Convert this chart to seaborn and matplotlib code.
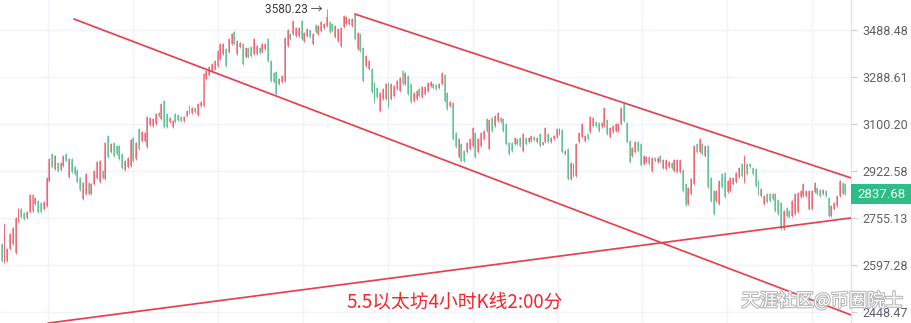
import numpy as np
import matplotlib
matplotlib.use("Agg")
import matplotlib.pyplot as plt
import seaborn as sns
from matplotlib.patches import Rectangle
from matplotlib.ticker import FixedLocator, NullLocator, NullFormatter, FuncFormatter
import matplotlib.patheffects as pe

# ---------------- data (ETH 4h candles) ----------------
opens = [
    2667, 2606, 2610, 2649, 2666, 2636, 2744, 2787, 2773, 2754,
    2775, 2779, 2803, 2815, 2808, 2786, 2796, 2886, 2986, 2930,
    2952, 2926, 2941, 2986, 2900, 2967, 2937, 2926, 2897, 2822,
    2839, 2879, 2839, 2875, 2897, 2882, 2922, 2893, 3054, 2993,
    3027, 3016, 3016, 2986, 2926, 2937, 2941, 3046, 2967, 3081,
    3035, 3035, 3012, 3096, 3092, 3100, 3143, 3120, 3191, 3139,
    3108, 3088, 3139, 3135, 3127, 3112, 3131, 3171, 3143, 3163,
    3135, 3171, 3171, 3280, 3297, 3314, 3322, 3335, 3364, 3385,
    3406, 3394, 3428, 3480, 3385, 3415, 3428, 3372, 3411, 3415,
    3385, 3385, 3411, 3394, 3406, 3449, 3355, 3305, 3309, 3260,
    3268, 3272, 3419, 3471, 3471, 3462, 3462, 3528, 3441, 3462,
    3488, 3428, 3511, 3471, 3484, 3497, 3506, 3524, 3515, 3458,
    3441, 3419, 3502, 3515, 3515, 3506, 3555, 3406, 3471, 3411,
    3335, 3322, 3322, 3264, 3243, 3151, 3199, 3199, 3264, 3199,
    3211, 3239, 3231, 3314, 3260, 3293, 3260, 3191, 3199, 3239,
    3207, 3219, 3231, 3252, 3260, 3256, 3243, 3260, 3297, 3223,
    3171, 3183, 3065, 2974, 3023, 2997, 2993, 3004, 3016, 3065,
    2993, 3016, 3042, 3120, 3004, 3123, 3092, 3112, 3123, 3120,
    3100, 3027, 3027, 3023, 3042, 3046, 2997, 3046, 3031, 3035,
    3050, 3031, 3062, 3019, 3031, 3062, 3031, 3042, 3050, 3062,
    3077, 2986, 3004, 2893, 2904, 2904, 3031, 3050, 3035, 3062,
    3069, 3092, 3108, 3104, 3088, 3092, 3116, 3050, 3069, 3073,
    3073, 3100, 3179, 3104, 3035, 2978, 2993, 3031, 3023, 2948,
    2956, 2974, 2922, 2971, 2956, 2978, 2934, 2930, 2937, 2952,
    2922, 2919, 2919, 2926, 2875, 2804, 2839, 2875, 3023, 2993,
    3023, 2978, 3016, 2897, 2850, 2814, 2804, 2911, 2915, 2846,
    2850, 2875, 2882, 2900, 2948, 2882, 2948, 2948, 2934, 2930,
    2886, 2832, 2804, 2839, 2839, 2822, 2839, 2818, 2807, 2717,
    2790, 2779, 2762, 2769, 2776, 2829, 2832, 2832, 2786, 2786,
    2846, 2861, 2854, 2839, 2850, 2825, 2762, 2786, 2797, 2832,
    2879, 2875,
]
highs = [
    2670, 2738, 2653, 2704, 2724, 2758, 2790, 2790, 2776, 2779,
    2839, 2839, 2829, 2818, 2811, 2814, 2900, 2971, 2989, 2982,
    2956, 2956, 2982, 2989, 2971, 2971, 2941, 2930, 2900, 2882,
    2915, 2882, 2879, 2926, 2959, 2963, 2926, 3031, 3058, 3027,
    3031, 3019, 3019, 2989, 2963, 2974, 3042, 3050, 3031, 3085,
    3073, 3069, 3131, 3127, 3123, 3143, 3147, 3183, 3195, 3143,
    3127, 3116, 3143, 3139, 3131, 3131, 3155, 3175, 3167, 3167,
    3183, 3191, 3305, 3318, 3335, 3347, 3360, 3402, 3432, 3432,
    3411, 3454, 3475, 3484, 3445, 3436, 3432, 3415, 3415, 3419,
    3454, 3424, 3415, 3432, 3432, 3454, 3360, 3309, 3314, 3284,
    3297, 3458, 3493, 3475, 3533, 3502, 3502, 3533, 3480, 3497,
    3493, 3475, 3515, 3511, 3528, 3519, 3580.23, 3528, 3519, 3511,
    3497, 3502, 3555, 3550, 3542, 3542, 3559, 3480, 3475, 3415,
    3381, 3360, 3326, 3268, 3248, 3227, 3243, 3264, 3268, 3264,
    3256, 3276, 3289, 3318, 3309, 3297, 3264, 3227, 3235, 3243,
    3252, 3252, 3268, 3272, 3264, 3260, 3264, 3309, 3301, 3227,
    3191, 3187, 3069, 3046, 3027, 3000, 3031, 3046, 3088, 3069,
    3046, 3069, 3077, 3123, 3120, 3127, 3135, 3147, 3127, 3123,
    3104, 3031, 3031, 3050, 3046, 3050, 3065, 3050, 3050, 3058,
    3054, 3050, 3065, 3031, 3088, 3065, 3050, 3058, 3085, 3085,
    3081, 3000, 3008, 2956, 2952, 3027, 3069, 3104, 3058, 3065,
    3131, 3127, 3112, 3108, 3108, 3167, 3120, 3088, 3096, 3104,
    3104, 3167, 3183, 3108, 3038, 3012, 3035, 3035, 3027, 2982,
    2978, 2978, 2974, 2974, 2974, 2982, 2967, 2967, 2959, 2956,
    2967, 2967, 2967, 2930, 2879, 2864, 2897, 3019, 3027, 3046,
    3027, 3019, 3019, 2900, 2854, 2854, 2890, 2915, 2919, 2890,
    2900, 2900, 2919, 2937, 2952, 2982, 2952, 2952, 2937, 2934,
    2890, 2861, 2836, 2843, 2843, 2843, 2843, 2822, 2811, 2783,
    2793, 2783, 2818, 2843, 2846, 2854, 2879, 2854, 2854, 2854,
    2882, 2864, 2857, 2857, 2854, 2829, 2800, 2811, 2836, 2890,
    2882, 2879,
]
lows = [
    2607, 2603, 2607, 2646, 2663, 2633, 2741, 2755, 2748, 2751,
    2772, 2776, 2800, 2772, 2772, 2783, 2793, 2882, 2934, 2926,
    2919, 2922, 2937, 2956, 2897, 2915, 2908, 2879, 2850, 2818,
    2836, 2836, 2836, 2872, 2893, 2879, 2893, 2890, 2971, 2989,
    2974, 2982, 2963, 2930, 2922, 2934, 2937, 2956, 2963, 3000,
    3031, 3031, 3008, 3092, 3088, 3096, 3127, 3116, 3085, 3085,
    3104, 3085, 3104, 3112, 3108, 3108, 3127, 3139, 3139, 3143,
    3131, 3167, 3167, 3276, 3293, 3309, 3318, 3330, 3360, 3381,
    3330, 3389, 3424, 3424, 3381, 3411, 3339, 3368, 3368, 3372,
    3381, 3381, 3385, 3389, 3402, 3351, 3268, 3264, 3215, 3256,
    3264, 3268, 3415, 3445, 3467, 3458, 3458, 3445, 3436, 3458,
    3454, 3424, 3475, 3467, 3480, 3493, 3502, 3475, 3480, 3454,
    3436, 3415, 3497, 3511, 3511, 3502, 3445, 3402, 3394, 3268,
    3330, 3318, 3223, 3183, 3203, 3147, 3195, 3195, 3163, 3195,
    3207, 3235, 3227, 3256, 3256, 3215, 3183, 3187, 3195, 3207,
    3203, 3215, 3227, 3248, 3239, 3235, 3239, 3256, 3187, 3155,
    3167, 3038, 3008, 2971, 2956, 2956, 2989, 3000, 3012, 2971,
    2989, 3012, 3038, 3069, 3000, 3069, 3088, 3108, 3104, 3069,
    3019, 2982, 2993, 3019, 3019, 3012, 2993, 3019, 3027, 3031,
    3035, 3027, 3012, 3019, 3027, 3027, 3027, 3038, 3046, 3058,
    2989, 2982, 2890, 2890, 2900, 2900, 3027, 3046, 3031, 3038,
    3065, 3088, 3088, 3069, 3085, 3088, 3058, 3046, 3065, 3069,
    3069, 3096, 3108, 3027, 2952, 2974, 2989, 2993, 2941, 2945,
    2952, 2945, 2919, 2956, 2952, 2952, 2930, 2926, 2934, 2930,
    2919, 2915, 2915, 2846, 2797, 2800, 2836, 2872, 2989, 2989,
    2982, 2974, 2861, 2811, 2765, 2811, 2800, 2861, 2825, 2843,
    2846, 2872, 2879, 2897, 2900, 2879, 2908, 2934, 2908, 2864,
    2836, 2829, 2800, 2807, 2811, 2818, 2776, 2765, 2714, 2714,
    2758, 2755, 2758, 2765, 2772, 2825, 2829, 2829, 2783, 2783,
    2843, 2836, 2829, 2836, 2829, 2758, 2758, 2783, 2793, 2829,
    2836, 2836,
]
closes = [
    2610, 2735, 2650, 2701, 2721, 2755, 2787, 2758, 2751, 2776,
    2836, 2836, 2826, 2775, 2775, 2811, 2897, 2967, 2937, 2978,
    2922, 2952, 2978, 2959, 2967, 2919, 2911, 2882, 2854, 2879,
    2911, 2839, 2875, 2922, 2956, 2959, 2897, 3027, 2974, 3023,
    2978, 2986, 2967, 2934, 2959, 2971, 3038, 2959, 3027, 3004,
    3069, 3065, 3127, 3123, 3120, 3139, 3131, 3179, 3088, 3088,
    3123, 3112, 3108, 3116, 3112, 3127, 3151, 3143, 3163, 3147,
    3179, 3187, 3301, 3314, 3330, 3343, 3355, 3398, 3428, 3428,
    3335, 3449, 3471, 3428, 3441, 3432, 3343, 3411, 3372, 3377,
    3449, 3419, 3389, 3428, 3428, 3355, 3272, 3268, 3219, 3280,
    3293, 3454, 3488, 3449, 3528, 3497, 3497, 3449, 3475, 3493,
    3458, 3471, 3480, 3506, 3524, 3515, 3545, 3480, 3484, 3506,
    3493, 3497, 3550, 3546, 3537, 3537, 3449, 3475, 3398, 3272,
    3377, 3355, 3227, 3187, 3207, 3223, 3239, 3260, 3167, 3260,
    3252, 3272, 3284, 3260, 3305, 3219, 3187, 3223, 3231, 3211,
    3248, 3248, 3264, 3268, 3243, 3239, 3260, 3305, 3191, 3159,
    3187, 3042, 3012, 3042, 2959, 2959, 3027, 3042, 3085, 2974,
    3042, 3065, 3073, 3073, 3116, 3073, 3131, 3143, 3108, 3073,
    3023, 2986, 2997, 3046, 3023, 3016, 3062, 3023, 3046, 3054,
    3038, 3046, 3016, 3031, 3085, 3031, 3046, 3054, 3081, 3081,
    2993, 2997, 2893, 2952, 2948, 3023, 3065, 3100, 3054, 3042,
    3127, 3123, 3092, 3073, 3104, 3163, 3062, 3085, 3092, 3100,
    3100, 3163, 3112, 3031, 2956, 3008, 3031, 2997, 2945, 2978,
    2974, 2948, 2971, 2959, 2971, 2956, 2963, 2963, 2956, 2934,
    2963, 2963, 2963, 2850, 2800, 2861, 2893, 3016, 2993, 3042,
    2986, 3016, 2864, 2814, 2769, 2850, 2886, 2864, 2829, 2886,
    2897, 2897, 2915, 2934, 2904, 2978, 2911, 2937, 2911, 2868,
    2839, 2857, 2832, 2811, 2814, 2839, 2779, 2769, 2717, 2779,
    2762, 2758, 2814, 2839, 2843, 2850, 2875, 2850, 2850, 2850,
    2879, 2839, 2832, 2854, 2832, 2762, 2797, 2807, 2832, 2886,
    2839, 2837.68,
]

price_ticks = [2448.47, 2597.28, 2755.13, 2922.58, 3100.20, 3288.61, 3488.48]
last_price = 2837.68
peak_label = "3580.23 →"
peak_index = 116
peak_price = 3580.23
caption = "5.5以太坊4小时K线2:00分"
watermark = "天涯社区@币圈院士"

# drawn trend lines: (candle index, price) anchors
lower_line_x = [25.8, 303.0]
lower_line_y = [3537.0, 2439.0]
upper_line_x = [126.0, 303.0]
upper_line_y = [3559.0, 2897.0]
support_line_x = [16.5, 303.0]
support_line_y = [2414.0, 2755.0]

# ---------------- styling ----------------
sns.set_theme(style="white")
plt.rcParams["font.family"] = ["Roboto", "Noto Sans CJK SC", "DejaVu Sans"]

W, H = 912, 323
fig = plt.figure(figsize=(W / 100, H / 100), dpi=100)
ax = fig.add_axes([0, 0, 851 / W, 1])
ax.set_facecolor("white")

UP = "#ee5a69"
DOWN = "#56bd8d"
UP_BODY = "#f29aa3"
DOWN_BODY = "#92d6b5"
LINE = "#e8404f"

o = np.array(opens, float)
c = np.array(closes, float)
hi = np.array(highs, float)
lo = np.array(lows, float)
idx = np.arange(len(o))
up = c >= o
wick_cols = np.where(up, UP, DOWN)
body_cols = np.where(up, UP_BODY, DOWN_BODY)

ax.set_yscale("log")
ymin, ymax = 2414.4, 3622.4
ax.set_ylim(ymin, ymax)
ax.set_xlim(-0.6, 303.0)

# grid
for p in price_ticks:
    ax.axhline(p, color="#f0f3fa", lw=1.0, zorder=0)
for gx in [16.5, 46.8, 77.1, 107.4, 137.7, 168.0, 198.3, 228.6, 258.9, 289.2]:
    ax.axvline(gx, color="#f0f3fa", lw=1.0, zorder=0)

# candles
bottoms = np.minimum(o, c)
heights = np.maximum(np.abs(c - o), 1.5)
ax.bar(idx, heights, bottom=bottoms, width=0.7, color=body_cols, linewidth=0, zorder=2)
ax.vlines(idx, lo, hi, colors=wick_cols, linewidth=0.55, zorder=2.5)

# trend lines via seaborn
for xs, ys in [(lower_line_x, lower_line_y), (upper_line_x, upper_line_y),
               (support_line_x, support_line_y)]:
    sns.lineplot(x=xs, y=ys, ax=ax, color=LINE, lw=1.25, zorder=3, sort=False)

# axis
ax.yaxis.tick_right()
ax.yaxis.set_major_locator(FixedLocator(price_ticks))
ax.yaxis.set_minor_locator(NullLocator())
ax.yaxis.set_minor_formatter(NullFormatter())
ax.yaxis.set_major_formatter(FuncFormatter(lambda v, _: f"{v:.2f}"))
ax.tick_params(axis="y", which="major", length=4, width=0.8, color="#c8cbd3",
               pad=4, labelsize=9, labelcolor="#5d606b", right=True, left=False)
ax.set_xticks([])
for s in ["top", "left", "bottom"]:
    ax.spines[s].set_visible(False)
ax.spines["right"].set_color("#e0e3eb")
ax.spines["right"].set_linewidth(1.0)
ax.set_xlabel("")
ax.set_ylabel("")

# peak label
ax.annotate(peak_label, xy=(peak_index, peak_price), xytext=(-3, 0),
            textcoords="offset points", ha="right", va="center",
            fontsize=8.5, color="#3a3a3a", zorder=5)

# last price box
frac = (np.log(last_price) - np.log(ymin)) / (np.log(ymax) - np.log(ymin))
bh = 20 / H
fig.patches.append(Rectangle((851 / W, frac - bh / 2), 61 / W, bh,
                             transform=fig.transFigure, facecolor="#2fbd87",
                             edgecolor="none", zorder=6))
fig.text(881.5 / W, frac, f"{last_price:.2f}", ha="center", va="center",
         fontsize=9.5, color="white", zorder=7)

# caption & watermark
fig.text(455 / W, 1 - 302 / H, caption, ha="center", va="center",
         fontsize=13.5, color="#f2262d",
         family=["Noto Sans CJK SC", "DejaVu Sans"], zorder=8)
fig.text(822 / W, 1 - 301 / H, watermark, ha="center", va="center",
         fontsize=13, color="white", family=["Noto Sans CJK SC", "DejaVu Sans"],
         path_effects=[pe.withStroke(linewidth=1.6, foreground="#b8b8b8")],
         zorder=9)

fig.savefig("out.png", dpi=100, facecolor="white")
